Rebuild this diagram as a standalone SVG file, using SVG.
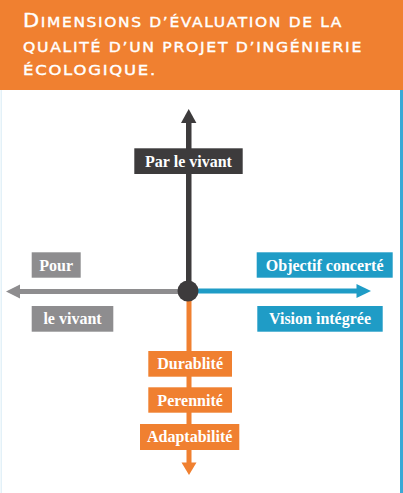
<svg xmlns="http://www.w3.org/2000/svg" width="403" height="493" viewBox="0 0 403 493">
<style>
.title{font-family:"DejaVu Sans","Liberation Sans",sans-serif;fill:#ffffff;font-size:14px;stroke:#ffffff;stroke-width:0.4;letter-spacing:1.5px;}
.big{font-size:19px;}
.lbl{font-family:"Liberation Serif","Times New Roman",serif;font-size:16px;fill:#ffffff;text-anchor:middle;font-weight:bold;}
.dark{fill:#3d3b3c;}
.gray{fill:#8e8d8f;}
.blue{fill:#1f9cc6;}
.orange{fill:#f08030;}
</style>
<rect x="0" y="0" width="403" height="493" fill="#ffffff"/>
<rect x="0" y="0" width="403" height="90" fill="#f08030"/>
<rect x="400" y="90" width="3" height="403" fill="#3aa9d6"/>
<rect x="0.5" y="90" width="1.5" height="403" fill="#e3f1f8"/>
<g id="title">
<text class="title" x="23" y="27" textLength="320" lengthAdjust="spacingAndGlyphs"><tspan class="big">D</tspan>IMENSIONS D’ÉVALUATION DE LA</text>
<text class="title" x="23" y="52" textLength="340" lengthAdjust="spacingAndGlyphs">QUALITÉ D’UN PROJET D’INGÉNIERIE</text>
<text class="title" x="23" y="75" textLength="134" lengthAdjust="spacingAndGlyphs">ÉCOLOGIQUE.</text>
</g>
<g id="connectors">
<rect class="dark" x="186" y="122" width="5.5" height="170"/>
<polygon class="dark" points="188.7,109 181,123 196.4,123"/>
<rect class="gray" x="19" y="289" width="170" height="5"/>
<polygon class="gray" points="6,291.5 20,284.5 20,298.5"/>
<rect class="blue" x="188" y="288.5" width="170" height="5"/>
<polygon class="blue" points="371,291 356.5,284 356.5,298"/>
<rect class="orange" x="186.5" y="291" width="5" height="173"/>
<polygon class="orange" points="189,475 181.5,462.5 196.5,462.5"/>
<circle class="dark" cx="188" cy="291" r="10.5"/>
</g>
<g id="node-par-le-vivant">
<rect class="dark" x="134.3" y="148.3" width="108.4" height="25.7"/>
<text class="lbl" x="188.5" y="166.5">Par le vivant</text>
</g>
<g id="node-pour">
<rect class="gray" x="31.7" y="252.3" width="49" height="25.4"/>
<text class="lbl" x="56.2" y="270.5">Pour</text>
</g>
<g id="node-le-vivant">
<rect class="gray" x="31.7" y="306" width="81.6" height="25.7"/>
<text class="lbl" x="72.5" y="324.3">le vivant</text>
</g>
<g id="node-objectif">
<rect class="blue" x="256.7" y="252.3" width="136" height="25.4"/>
<text class="lbl" x="324.7" y="270.5">Objectif concerté</text>
</g>
<g id="node-vision">
<rect class="blue" x="257.3" y="306" width="125.4" height="25.7"/>
<text class="lbl" x="320" y="324.3">Vision intégrée</text>
</g>
<g id="node-durablite">
<rect class="orange" x="148.3" y="351" width="83.7" height="25.7"/>
<text class="lbl" x="190.1" y="369.3">Durablité</text>
</g>
<g id="node-perennite">
<rect class="orange" x="148.3" y="387.3" width="83.7" height="25.4"/>
<text class="lbl" x="190.1" y="405.5">Perennité</text>
</g>
<g id="node-adaptabilite">
<rect class="orange" x="140" y="424" width="99.3" height="26"/>
<text class="lbl" x="189.7" y="442.3">Adaptabilité</text>
</g>
</svg>
